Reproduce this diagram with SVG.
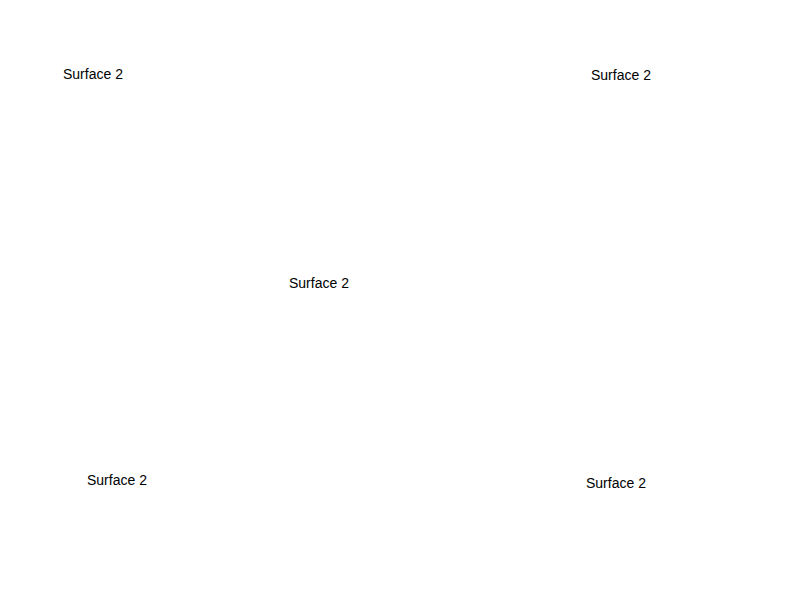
<svg xmlns="http://www.w3.org/2000/svg" width="800" height="600" viewBox="0 0 800 600">
<style>
.lbl{font-family:"Liberation Sans",Arial,sans-serif;font-size:14px;fill:#000}
</style>
<rect width="800" height="600" fill="#fff"/>
<g id="label1"><text class="lbl" x="63" y="79">Surface 2</text></g>
<g id="label2"><text class="lbl" x="591" y="80">Surface 2</text></g>
<g id="label3"><text class="lbl" x="289" y="288">Surface 2</text></g>
<g id="label4"><text class="lbl" x="87" y="485">Surface 2</text></g>
<g id="label5"><text class="lbl" x="586" y="488">Surface 2</text></g>
<g id="connectors"></g>
</svg>
